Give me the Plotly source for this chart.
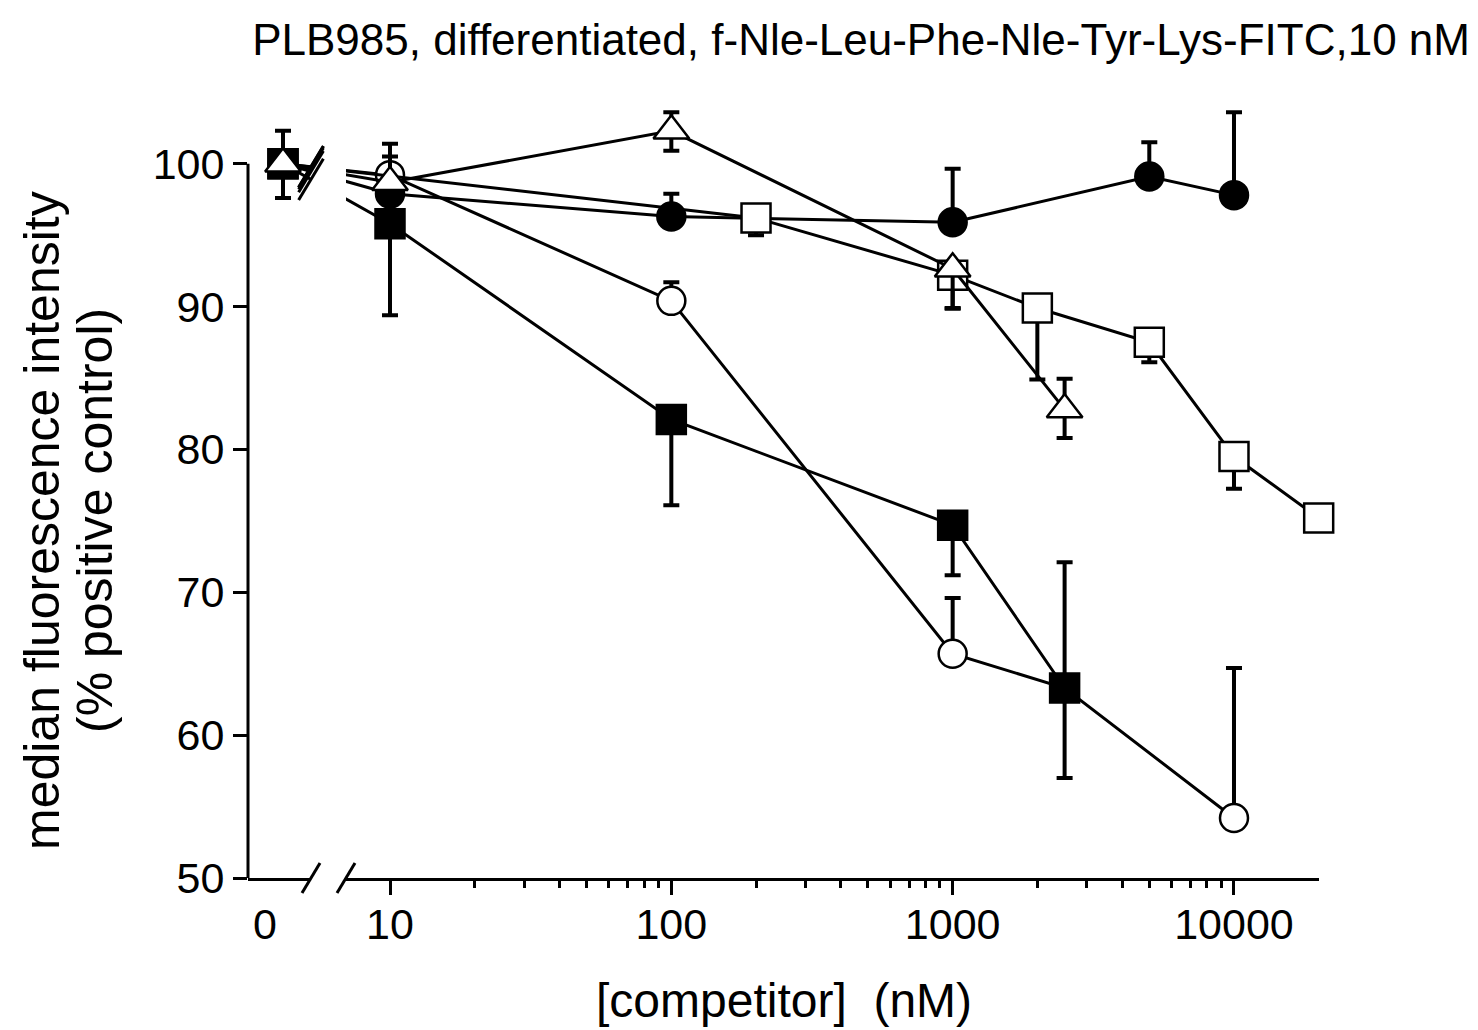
"""Competition binding curves, PLB985 cells, broken log concentration axis."""

import math

import plotly.graph_objects as go

# ---- data (median fluorescence, % positive control) ----
zero_mfi = 100.0
zero_err_up = 2.3
zero_err_dn = 2.4

open_circle_conc = [10, 100, 1000, 2500, 10000]
open_circle_mfi = [99.2, 90.4, 65.7, 63.3, 54.2]
open_circle_err_up = [2.2, 1.3, 3.9, 0, 10.5]
open_circle_err_dn = [0, 0, 0, 6.3, 0]

filled_square_conc = [10, 100, 1000, 2500]
filled_square_mfi = [95.8, 82.1, 74.7, 63.3]
filled_square_err_up = [0, 0, 0, 8.8]
filled_square_err_dn = [6.4, 6.0, 3.5, 0]

filled_circle_conc = [10, 100, 1000, 5000, 10000]
filled_circle_mfi = [97.9, 96.3, 95.9, 99.1, 97.8]
filled_circle_err_up = [2.6, 1.6, 3.75, 2.4, 5.8]
filled_circle_err_dn = [0, 0, 0, 0, 0]

open_square_conc = [200, 1000, 2000, 5000, 10000, 20000]
open_square_mfi = [96.2, 92.2, 89.9, 87.5, 79.5, 75.2]
open_square_err_up = [0, 0, 0, 0, 0, 0]
open_square_err_dn = [1.2, 2.3, 5.0, 1.4, 2.25, 0]

open_triangle_conc = [10, 100, 1000, 2500]
open_triangle_mfi = [98.7, 102.3, 92.65, 82.8]
open_triangle_err_up = [0, 1.3, 0, 2.15]
open_triangle_err_dn = [0, 1.4, 2.8, 2.0]

major_ticks = [10, 100, 1000, 10000]
major_labels = ["10", "100", "1000", "10000"]
minor_ticks = [m * d for d in (10, 100, 1000) for m in range(2, 10)]
y_ticks = [50, 60, 70, 80, 90, 100]

title_text = "PLB985, differentiated, f-Nle-Leu-Phe-Nle-Tyr-Lys-FITC,10 nM"
x_title = "[competitor]  (nM)"
y_title_1 = "median fluorescence intensity"
y_title_2 = "(% positive control)"

# ---- geometry, in pixels of the browser window ----
WIN_W, WIN_H = 1478, 1030
BODY_MARGIN = 8  # default page margin around the plot div
FIG_W, FIG_H = WIN_W - BODY_MARGIN, WIN_H - BODY_MARGIN
PLOT_L, PLOT_R = 248, 1319
PLOT_T, PLOT_B = 78, 878
Y_MIN, Y_MAX = 50, 106
SEG1_END, SEG2_START = 311, 346
PX_ZERO, PX_ZERO_LABEL = 283, 265
PX_TEN, PX_DECADE = 390, 281.33

plot_w = PLOT_R - PLOT_L
plot_h = PLOT_B - PLOT_T

seg1_range = [PLOT_L - PX_ZERO, SEG1_END - PX_ZERO]
log_lo = 1 + (SEG2_START - PX_TEN) / PX_DECADE
log_hi = 1 + (PLOT_R - PX_TEN) / PX_DECADE
zero_on_seg2 = 10 ** (1 + (PX_ZERO - PX_TEN) / PX_DECADE)


def px_of_conc(c):
    return PX_TEN + (math.log10(c) - 1) * PX_DECADE


FONT = "Liberation Sans, Arial, sans-serif"
BLACK = "black"

series = {
    "open_circle": ("circle", "white", open_circle_conc, open_circle_mfi,
                    open_circle_err_up, open_circle_err_dn, 28),
    "filled_square": ("square", BLACK, filled_square_conc, filled_square_mfi,
                      filled_square_err_up, filled_square_err_dn, 29),
    "filled_circle": ("circle", BLACK, filled_circle_conc, filled_circle_mfi,
                      filled_circle_err_up, filled_circle_err_dn, 28),
    "open_square": ("square", "white", open_square_conc, open_square_mfi,
                    open_square_err_up, open_square_err_dn, 29),
    "open_triangle": ("triangle-up", "white", open_triangle_conc, open_triangle_mfi,
                      open_triangle_err_up, open_triangle_err_dn, 31),
}
# stacking order on each side of the break
order_zero = ["open_circle", "open_square", "filled_circle", "filled_square", "open_triangle"]
order_log = ["open_circle", "filled_square", "filled_circle", "open_square", "open_triangle"]

slash = dict(symbol="line-ne", size=34, angle=-14, line=dict(color=BLACK, width=3))
line_style = dict(color=BLACK, width=3)


def marker_of(symbol, fill, size):
    return dict(symbol=symbol, size=size, color=fill, line=dict(color=BLACK, width=2.5))


fig = go.Figure()

# segment with the zero point
for key in order_zero:
    symbol, fill, conc, mfi, up, dn, size = series[key]
    is_triangle = symbol == "triangle-up"
    # first point's position as seen from segment 1, so the line crosses the break
    first_on_seg1 = px_of_conc(conc[0]) - PX_ZERO
    frac1 = (SEG1_END - PX_ZERO) / first_on_seg1
    fig.add_trace(go.Scatter(
        x=[0, first_on_seg1], y=[zero_mfi, mfi[0]], xaxis="x", yaxis="y",
        mode="lines", line=line_style, hoverinfo="skip",
    ))
    fig.add_trace(go.Scatter(
        x=[seg1_range[1]], y=[zero_mfi + (mfi[0] - zero_mfi) * frac1],
        xaxis="x", yaxis="y", mode="markers", cliponaxis=False, hoverinfo="skip",
        marker=slash,
    ))
    fig.add_trace(go.Scatter(
        x=[0], y=[zero_mfi], xaxis="x", yaxis="y", mode="markers",
        marker=marker_of(symbol, fill, size), cliponaxis=False,
        error_y=dict(type="data", symmetric=False,
                     array=[zero_err_up if is_triangle else 0],
                     arrayminus=[zero_err_dn if is_triangle else 0],
                     color=BLACK, thickness=4, width=8),
    ))

# log segment
for key in order_log:
    symbol, fill, conc, mfi, up, dn, size = series[key]
    first_on_seg1 = px_of_conc(conc[0]) - PX_ZERO
    frac2 = (SEG2_START - PX_ZERO) / first_on_seg1
    fig.add_trace(go.Scatter(
        x=[10 ** log_lo], y=[zero_mfi + (mfi[0] - zero_mfi) * frac2],
        xaxis="x2", yaxis="y", mode="markers", cliponaxis=False, hoverinfo="skip",
        marker=slash,
    ))
    fig.add_trace(go.Scatter(
        x=[zero_on_seg2] + conc, y=[zero_mfi] + mfi, xaxis="x2", yaxis="y",
        mode="lines", line=line_style, hoverinfo="skip",
    ))
    fig.add_trace(go.Scatter(
        x=conc, y=mfi, xaxis="x2", yaxis="y", mode="markers",
        marker=marker_of(symbol, fill, size), cliponaxis=False,
        error_y=dict(type="data", symmetric=False, array=up, arrayminus=dn,
                     color=BLACK, thickness=4, width=8),
    ))

# y axis line only up to 100, and the axis-break slashes
shapes = [dict(type="line", xref="paper", yref="y", x0=0, x1=0, y0=Y_MIN, y1=100,
               line=dict(color=BLACK, width=3))]
for cx in (SEG1_END, SEG2_START):
    shapes.append(dict(
        type="line", xref="paper", yref="paper",
        x0=(cx - 9 - PLOT_L) / plot_w, x1=(cx + 9 - PLOT_L) / plot_w,
        y0=-15 / plot_h, y1=15 / plot_h,
        line=dict(color=BLACK, width=3),
    ))

annotations = [
    dict(text=x_title, xref="paper", yref="paper", x=0.5, y=(PLOT_B - 1000) / plot_h,
         xanchor="center", yanchor="middle", showarrow=False,
         font=dict(family=FONT, size=48, color=BLACK)),
    dict(text=y_title_1, xref="paper", yref="paper", x=(42 - PLOT_L) / plot_w,
         y=(PLOT_B - 521) / plot_h, xanchor="center", yanchor="middle",
         textangle=-90, showarrow=False, font=dict(family=FONT, size=50, color=BLACK)),
    dict(text=y_title_2, xref="paper", yref="paper", x=(95 - PLOT_L) / plot_w,
         y=(PLOT_B - 521) / plot_h, xanchor="center", yanchor="middle",
         textangle=-90, showarrow=False, font=dict(family=FONT, size=50, color=BLACK)),
]

tick_font = dict(family=FONT, size=43, color=BLACK)

fig.update_layout(
    width=FIG_W,
    height=FIG_H,
    margin=dict(l=PLOT_L - BODY_MARGIN, r=WIN_W - PLOT_R,
                t=PLOT_T - BODY_MARGIN, b=WIN_H - PLOT_B, pad=0),
    paper_bgcolor="white",
    plot_bgcolor="white",
    showlegend=False,
    title=dict(text=title_text, xref="container", yref="container",
               x=(1470 - BODY_MARGIN) / FIG_W, xanchor="right",
               y=1 - (40 - BODY_MARGIN) / FIG_H, yanchor="middle",
               font=dict(family=FONT, size=44, color=BLACK)),
    xaxis=dict(
        domain=[0, (SEG1_END - PLOT_L) / plot_w], range=seg1_range,
        showline=True, linecolor=BLACK, linewidth=3, showgrid=False, zeroline=False,
        ticks="outside", ticklen=14, tickwidth=3, tickcolor="rgba(0,0,0,0)",
        tickmode="array", tickvals=[PX_ZERO_LABEL - PX_ZERO], ticktext=["0"],
        ticklabelstandoff=-8,
        tickfont=tick_font, anchor="y", fixedrange=True,
    ),
    xaxis2=dict(
        type="log", domain=[(SEG2_START - PLOT_L) / plot_w, 1], range=[log_lo, log_hi],
        showline=True, linecolor=BLACK, linewidth=3, showgrid=False, zeroline=False,
        ticks="outside", ticklen=14, tickwidth=3, tickcolor=BLACK,
        tickmode="array", tickvals=major_ticks, ticktext=major_labels,
        ticklabelstandoff=-8,
        minor=dict(tickmode="array", tickvals=minor_ticks, ticks="outside",
                   ticklen=7, tickwidth=3, tickcolor=BLACK),
        tickfont=tick_font, anchor="y", fixedrange=True,
    ),
    yaxis=dict(
        range=[Y_MIN, Y_MAX], showline=False, showgrid=False, zeroline=False,
        ticks="outside", ticklen=14, tickwidth=3, tickcolor=BLACK,
        tickmode="array", tickvals=y_ticks, tickfont=tick_font, fixedrange=True,
    ),
    shapes=shapes,
    annotations=annotations,
)

fig.write_html("out.html")
